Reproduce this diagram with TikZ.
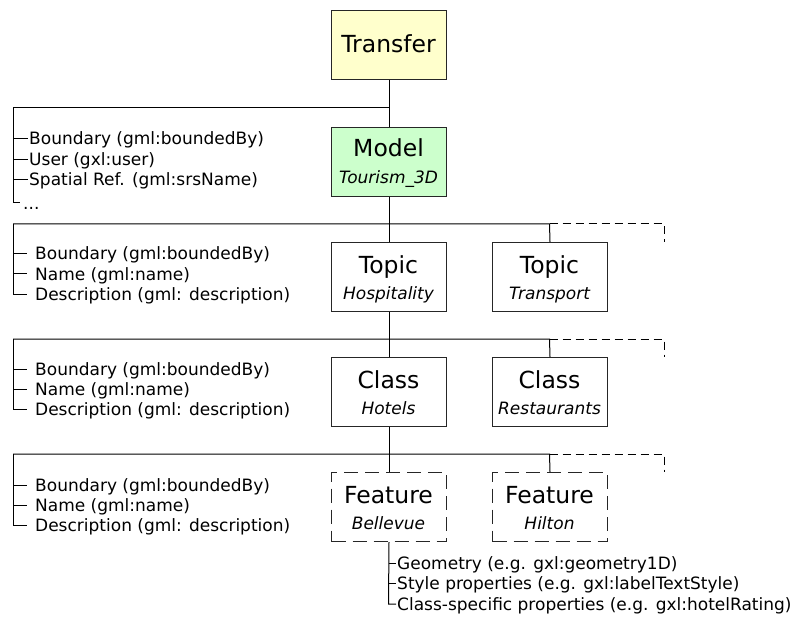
\documentclass[tikz,border=0pt]{standalone}
\usepackage{fontspec}
\setmainfont{DejaVu Sans}
\definecolor{tyellow}{RGB}{255,255,204}
\definecolor{mgreen}{RGB}{204,255,204}
\begin{document}
\begin{tikzpicture}[x=1pt,y=-1pt,
  box/.style={draw=black!85, line width=1pt, minimum width=115pt, minimum height=69pt, inner sep=0pt, anchor=north west},
  fbox/.style={box, dash pattern=on 14pt off 7pt},
  big/.style={font=\fontsize{23.5}{27}\selectfont, inner sep=0pt, anchor=base},
  itl/.style={font=\fontsize{17}{20}\selectfont\itshape, inner sep=0pt, anchor=base},
  item/.style={font=\fontsize{17}{20}\selectfont, inner sep=0pt, anchor=base west},
  ln/.style={line width=1pt},
  dl/.style={line width=1pt, dash pattern=on 8pt off 5pt}]
\useasboundingbox (0,0) rectangle (800,620);
\fill[white] (0,0) rectangle (800,620);

% boxes
\node[box, fill=tyellow] (transfer) at (331,10) {};
\node[box, fill=mgreen] (model) at (331,127) {};
\node[box] (hosp) at (331,242) {};
\node[box] (transport) at (492,242) {};
\node[box] (hotels) at (331,357) {};
\node[box] (rest) at (492,357) {};
\node[fbox] (bellevue) at (331,472) {};
\node[fbox] (hilton) at (492,472) {};

% box texts
\node[big] (tT) at (388.5,53) {Transfer};
\node[big] (mT) at (388.5,157) {Model};
\node[itl] (mI) at (388.5,184) {Tourism\_3D};
\node[big] (hT) at (388.5,273) {Topic};
\node[itl] (hI) at (388.5,299) {Hospitality};
\node[big] (trT) at (549.5,273) {Topic};
\node[itl] (trI) at (549.5,299) {Transport};
\node[big] (hoT) at (388.5,388) {Class};
\node[itl] (hoI) at (388.5,414) {Hotels};
\node[big] (reT) at (549.5,388) {Class};
\node[itl] (reI) at (549.5,414) {Restaurants};
\node[big] (beT) at (388.5,503) {Feature};
\node[itl] (beI) at (388.5,529) {Bellevue};
\node[big] (hiT) at (549.5,503) {Feature};
\node[itl] (hiI) at (549.5,529) {Hilton};

% junction coordinates
\coordinate (j1) at (388.5,108);
\coordinate (j2) at (388.5,224);
\coordinate (j3) at (388.5,339);
\coordinate (j4) at (388.5,454);

% spine
\draw[ln] (transfer.south) -- (model.north);
\draw[ln] (model.south) -- (hosp.north);
\draw[ln] (hosp.south) -- (hotels.north);
\draw[ln] (hotels.south) -- (bellevue.north);

% level 1 (model)
\draw[ln] (j1) -- (13,108) -- (13,203) -- (20,203);
\draw[ln] (13,139) -- (28,139);
\draw[ln] (13,160) -- (28,160);
\draw[ln] (13,180) -- (28,180);
\node[item] (m1) at (29,145) {Boundary (gml:boundedBy)};
\node[item] (m2) at (29,166) {User (gxl:user)};
\node[item] (m3) at (29,186) {Spatial Ref. (gml:srsName)};
\node[item] (m4) at (23,210) {...};

% level 2 (topic)
\draw[ln] (13,224) -- (j2) -- (549.5,224) -- (transport.north);
\draw[dl] (549.5,224) -- (664,224) -- (664,242);
\draw[ln] (13,224) -- (13,294) -- (27,294);
\draw[ln] (13,254) -- (27,254);
\draw[ln] (13,274) -- (27,274);
\node[item] (t1) at (35,260) {Boundary (gml:boundedBy)};
\node[item] (t2) at (35,280) {Name (gml:name)};
\node[item] (t3) at (35,300) {Description (gml: description)};

% level 3 (class)
\draw[ln] (13,339) -- (j3) -- (549.5,339) -- (rest.north);
\draw[dl] (549.5,339) -- (664,339) -- (664,357);
\draw[ln] (13,339) -- (13,409) -- (27,409);
\draw[ln] (13,369) -- (27,369);
\draw[ln] (13,389) -- (27,389);
\node[item] (c1) at (35,375) {Boundary (gml:boundedBy)};
\node[item] (c2) at (35,395) {Name (gml:name)};
\node[item] (c3) at (35,415) {Description (gml: description)};

% level 4 (feature)
\draw[ln] (13,454) -- (j4) -- (549.5,454) -- (hilton.north);
\draw[dl] (549.5,454) -- (664,454) -- (664,472);
\draw[ln] (13,454) -- (13,525) -- (27,525);
\draw[ln] (13,485) -- (27,485);
\draw[ln] (13,505) -- (27,505);
\node[item] (f1) at (35,491) {Boundary (gml:boundedBy)};
\node[item] (f2) at (35,511) {Name (gml:name)};
\node[item] (f3) at (35,531) {Description (gml: description)};

% feature properties
\coordinate (b0) at (388.5,604);
\draw[ln] (bellevue.south) -- (b0) -- (396,604);
\draw[ln] (388.5,563) -- (396,563);
\draw[ln] (388.5,583) -- (396,583);
\node[item] (p1) at (397,569) {Geometry (e.g. gxl:geometry1D)};
\node[item] (p2) at (397,589) {Style properties (e.g. gxl:labelTextStyle)};
\node[item] (p3) at (397,610) {Class-specific properties (e.g. gxl:hotelRating)};
\end{tikzpicture}
\end{document}
